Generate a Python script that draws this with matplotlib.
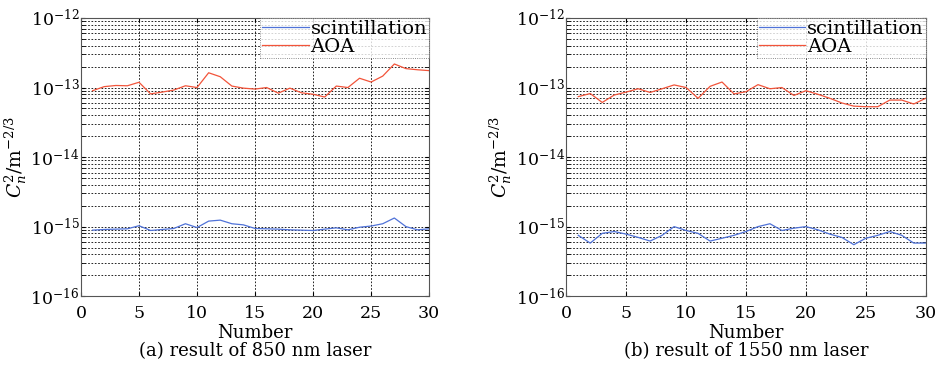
import numpy as np
import matplotlib.pyplot as plt

plt.rcParams['font.family'] = ['DejaVu Serif']
plt.rcParams['mathtext.fontset'] = 'dejavuserif'

# data
number = np.arange(1, 31)

scint_850 = [8.9e-16, 9.1e-16, 9.2e-16, 9.3e-16, 1.03e-15, 8.8e-16, 9.1e-16, 9.4e-16, 1.1e-15, 9.7e-16,
             1.2e-15, 1.24e-15, 1.1e-15, 1.06e-15, 9.4e-16, 9.3e-16, 9.2e-16, 9.0e-16, 8.9e-16, 8.8e-16,
             9.2e-16, 9.6e-16, 9.0e-16, 9.8e-16, 1.02e-15, 1.1e-15, 1.33e-15, 1.0e-15, 9.0e-16, 9.3e-16]
aoa_850 = [9.0e-14, 1.03e-13, 1.07e-13, 1.06e-13, 1.19e-13, 8.1e-14, 8.6e-14, 9.2e-14, 1.06e-13, 1.0e-13,
           1.63e-13, 1.43e-13, 1.05e-13, 9.8e-14, 9.5e-14, 1.0e-13, 8.3e-14, 9.8e-14, 8.4e-14, 8.0e-14,
           7.3e-14, 1.05e-13, 1.0e-13, 1.36e-13, 1.2e-13, 1.46e-13, 2.18e-13, 1.87e-13, 1.8e-13, 1.75e-13]

scint_1550 = [7.5e-16, 5.8e-16, 8.0e-16, 8.5e-16, 7.8e-16, 7.0e-16, 6.2e-16, 7.5e-16, 1.0e-15, 8.8e-16,
              8.0e-16, 6.2e-16, 6.8e-16, 7.5e-16, 8.5e-16, 1.0e-15, 1.1e-15, 8.8e-16, 9.5e-16, 1.0e-15,
              9.0e-16, 7.8e-16, 7.0e-16, 5.5e-16, 6.8e-16, 7.5e-16, 8.5e-16, 7.5e-16, 5.8e-16, 5.8e-16]
aoa_1550 = [7.4e-14, 8.2e-14, 6.1e-14, 7.8e-14, 8.6e-14, 9.6e-14, 8.5e-14, 9.6e-14, 1.09e-13, 1.0e-13,
            7.0e-14, 1.04e-13, 1.2e-13, 8.1e-14, 8.7e-14, 1.1e-13, 9.6e-14, 1.0e-13, 7.7e-14, 9.0e-14,
            8.0e-14, 7.0e-14, 6.0e-14, 5.4e-14, 5.3e-14, 5.3e-14, 6.6e-14, 6.6e-14, 5.8e-14, 7.0e-14]

captions = ['(a) result of 850 nm laser', '(b) result of 1550 nm laser']

fig = plt.figure(figsize=(9.36, 3.67), dpi=100)
ax1 = fig.add_axes([0.0865, 0.193, 0.372, 0.758])
ax2 = fig.add_axes([0.605, 0.193, 0.384, 0.758])

for ax, s, a, cap in [(ax1, scint_850, aoa_850, captions[0]), (ax2, scint_1550, aoa_1550, captions[1])]:
    ax.plot(number, s, color='#4f72d8', lw=0.9, label='scintillation')
    ax.plot(number, a, color='#f2543a', lw=0.9, label='AOA')
    ax.set_yscale('log')
    ax.set_xlim(0, 30)
    ax.set_ylim(1e-16, 1e-12)
    ax.set_xticks([0, 5, 10, 15, 20, 25, 30])
    ax.set_yticks([1e-16, 1e-15, 1e-14, 1e-13, 1e-12])
    ax.grid(True, which='major', color='k', ls=(0, (2, 2)), lw=0.6)
    ax.grid(True, which='minor', axis='y', color='k', ls=(0, (2, 2)), lw=0.6)
    ax.tick_params(which='both', direction='in', labelsize=12.5, length=3, top=True, right=True)
    ax.tick_params(axis='x', pad=6)
    ax.tick_params(axis='y', pad=1)
    for sp in ax.spines.values():
        sp.set_color('#555555')
    ax.set_ylabel(r'$C_n^2$/m$^{-2/3}$', fontsize=13.5, labelpad=1)
    ax.set_xlabel('Number\n' + cap, fontsize=13, labelpad=2, linespacing=1.0)
    leg = ax.legend(loc='upper right', fontsize=14, handlelength=2.4, handletextpad=0.1,
                    borderpad=0.1, labelspacing=0.0, borderaxespad=0.0, fancybox=False)
    leg.get_frame().set_edgecolor('#444444')
    leg.get_frame().set_linewidth(0.6)
    leg.get_frame().set_linestyle(':')

plt.savefig('out.png', dpi=100)
